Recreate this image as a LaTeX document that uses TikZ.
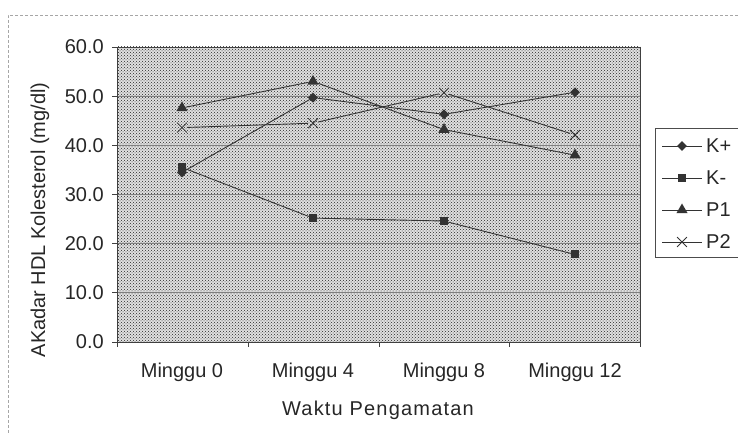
\documentclass[tikz,border=0pt]{standalone}
\usepackage{fontspec}
\setmainfont{Liberation Sans}
\usetikzlibrary{shapes.geometric,shapes.misc,patterns}

\begin{document}
\begin{tikzpicture}[x=1pt,y=1pt,
  lbl/.style={font=\fontsize{20}{23}\selectfont, text=black!85, inner sep=0pt},
  dia/.style={diamond, fill=black!80, inner sep=0pt, minimum size=10pt},
  sq/.style={rectangle, fill=black!80, inner sep=0pt, minimum size=8pt},
  tri/.style={regular polygon, regular polygon sides=3, fill=black!80, inner sep=0pt, minimum size=13pt},
  crs/.style={cross out, draw=black!80, line width=0.8pt, inner sep=0pt, minimum size=9pt},
  ser/.style={black!80, line width=0.9pt},
  grid line/.style={black!50, line width=0.9pt}]
  \useasboundingbox (0,0) rectangle (738,435);

  % scan frame
  \draw[black!35, densely dashed, line width=0.6pt] (738,420) -- (8,420) -- (8,0);

  % plot area
  \fill[black!12] (117,93) rectangle (640,388);
  \fill[pattern=crosshatch dots, pattern color=black!85] (117,93) rectangle (640,388);
  \foreach \v in {1,...,5}
    \draw[grid line] (117,93+49.17*\v) -- (640,93+49.17*\v);
  \draw[black!75, line width=0.8pt] (117,93) rectangle (640,388);

  % y axis
  \foreach \v/\t in {0/0.0,1/10.0,2/20.0,3/30.0,4/40.0,5/50.0,6/60.0} {
    \draw[black!75, line width=0.8pt] (112,93+49.17*\v) -- (117,93+49.17*\v);
    \node[lbl, anchor=east] (y\v) at (104,93+49.17*\v) {\t};
  }
  \node[lbl, rotate=90] (ytitle) at (40,215) {AKadar HDL Kolesterol (mg/dl)};

  % x axis
  \foreach \x in {117,248,379,509,640}
    \draw[black!75, line width=0.8pt] (\x,93) -- (\x,88);
  \node[lbl] (m0) at (182,63) {Minggu 0};
  \node[lbl] (m4) at (313,63) {Minggu 4};
  \node[lbl] (m8) at (444,63) {Minggu 8};
  \node[lbl] (m12) at (575,63) {Minggu 12};
  \node[lbl, font=\fontsize{20}{23}\selectfont\addfontfeature{LetterSpace=6}] (xtitle) at (378,25) {Waktu Pengamatan};

  % data
  \begin{scope}[shift={(0pt,93pt)}, y=4.917pt]
    \node[dia] (kp0) at (182,34.5) {};
    \node[dia] (kp1) at (313,49.7) {};
    \node[dia] (kp2) at (444,46.3) {};
    \node[dia] (kp3) at (575,50.8) {};

    \node[sq] (km0) at (182,35.5) {};
    \node[sq] (km1) at (313,25.2) {};
    \node[sq] (km2) at (444,24.6) {};
    \node[sq] (km3) at (575,17.8) {};

    \node[tri] (pa0) at (182,47.6) {};
    \node[tri] (pa1) at (313,53.0) {};
    \node[tri] (pa2) at (444,43.2) {};
    \node[tri] (pa3) at (575,38.0) {};

    \node[crs] (pb0) at (182,43.6) {};
    \node[crs] (pb1) at (313,44.5) {};
    \node[crs] (pb2) at (444,50.7) {};
    \node[crs] (pb3) at (575,42.1) {};
  \end{scope}

  \draw[ser] (kp0) -- (kp1) -- (kp2) -- (kp3);
  \draw[ser] (km0) -- (km1) -- (km2) -- (km3);
  \draw[ser] (pa0) -- (pa1) -- (pa2) -- (pa3);
  \draw[ser] (pb0) -- (pb1) -- (pb2) -- (pb3);

  % legend
  \draw[black!70, line width=0.7pt] (745,307) -- (655,307) -- (655,178) -- (745,178);
  \coordinate (la1) at (662,289); \coordinate (lb1) at (702,289);
  \coordinate (la2) at (662,257); \coordinate (lb2) at (702,257);
  \coordinate (la3) at (662,225); \coordinate (lb3) at (702,225);
  \coordinate (la4) at (662,193); \coordinate (lb4) at (702,193);
  \draw[ser] (la1) -- (lb1);
  \draw[ser] (la2) -- (lb2);
  \draw[ser] (la3) -- (lb3);
  \draw[ser] (la4) -- (lb4);
  \node[dia] (lkp) at (682,289) {};
  \node[sq] (lkm) at (682,257) {};
  \node[tri] (lpa) at (682,225) {};
  \node[crs, fill=white] (lpb) at (682,193) {};
  \node[lbl, anchor=west] (tkp) at (706,289) {K+};
  \node[lbl, anchor=west] (tkm) at (706,257) {K-};
  \node[lbl, anchor=west] (tpa) at (706,225) {P1};
  \node[lbl, anchor=west] (tpb) at (706,193) {P2};
\end{tikzpicture}
\end{document}
